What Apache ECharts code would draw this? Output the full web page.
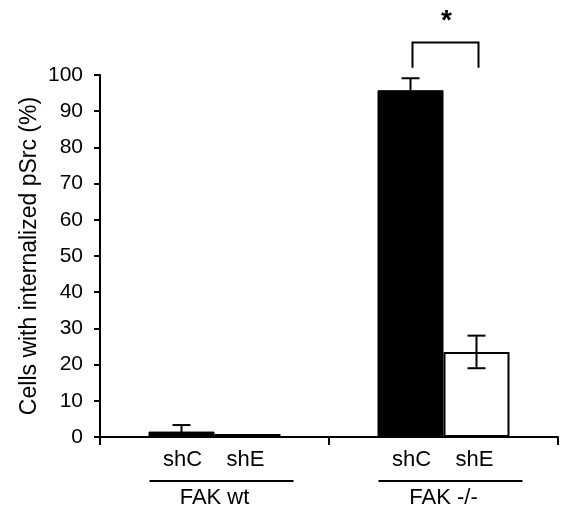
<!DOCTYPE html>
<html><head><meta charset="utf-8">
<script src="https://cdn.jsdelivr.net/npm/echarts@6/dist/echarts.min.js"></script>
<style>html,body{margin:0;padding:0;background:#fff}#c{width:567px;height:518px}</style>
</head><body><div id="c"></div>
<script>
const groups = ['FAK wt', 'FAK -/-'];
const subLabels = ['shC', 'shE'];
const shC = [1.5, 95.8];
const shE = [0.8, 23.5];
const shCErr = [1.8, 3.3];
const shEErr = [0, 4.5];
const yTicks = [0, 10, 20, 30, 40, 50, 60, 70, 80, 90, 100];
const sig = { group: 1, low: 102, high: 109, starAt: 117, text: '*' };

const FONT = 'Liberation Sans, Arial, sans-serif';
const BAR_W = 66;

const chart = echarts.init(document.getElementById('c'), null, { renderer: 'canvas' });

function errItem(params, api, offset) {
  const idx = api.value(0), v = api.value(1), e = api.value(2);
  if (!e) return null;
  const lo = Math.max(0, v - e), hi = v + e;
  const pLo = api.coord([idx, lo]), pHi = api.coord([idx, hi]);
  const x = pLo[0] + offset;
  const style = { stroke: '#000', lineWidth: 2 };
  return { type: 'group', children: [
    { type: 'line', shape: { x1: x, y1: pLo[1], x2: x, y2: pHi[1] }, style },
    { type: 'line', shape: { x1: x - 9, y1: pHi[1], x2: x + 9, y2: pHi[1] }, style },
    { type: 'line', shape: { x1: x - 9, y1: pLo[1], x2: x + 9, y2: pLo[1] }, style }
  ]};
}

chart.setOption({
  animation: false,
  grid: { left: 100, right: 9, top: 75, bottom: 81 },
  xAxis: {
    type: 'category', data: groups, boundaryGap: true,
    axisLine: { lineStyle: { color: '#000', width: 2 } },
    axisTick: { show: true, length: 8, lineStyle: { color: '#000', width: 2 } },
    axisLabel: { margin: 50, color: '#000', fontSize: 22, fontFamily: FONT }
  },
  yAxis: {
    type: 'value', min: 0, max: 100, interval: 10,
    name: 'Cells with internalized pSrc (%)', nameLocation: 'middle', nameGap: 59,
    nameMoveOverlap: false,
    nameTextStyle: { color: '#000', fontSize: 23, fontFamily: FONT },
    splitLine: { show: false },
    axisLine: { show: true, lineStyle: { color: '#000', width: 2 } },
    axisTick: { show: true, length: 6, lineStyle: { color: '#000', width: 2 } },
    axisLabel: { margin: 17, color: '#000', fontSize: 21, fontFamily: FONT,
      formatter: v => yTicks.includes(v) ? String(v) : '' }
  },
  series: [
    { name: 'shC', type: 'bar', data: shC, barWidth: BAR_W, barGap: '0%',
      itemStyle: { color: '#000', borderColor: '#000', borderWidth: 1 } },
    { name: 'shE', type: 'bar', data: shE, barWidth: BAR_W, barGap: '0%',
      itemStyle: { color: '#fff', borderColor: '#000', borderWidth: 2 } },
    { type: 'custom', z: 10, clip: false,
      data: groups.map((g, i) => [i, shC[i], shCErr[i]]),
      renderItem: (p, api) => errItem(p, api, -BAR_W / 2) },
    { type: 'custom', z: 10, clip: false,
      data: groups.map((g, i) => [i, shE[i], shEErr[i]]),
      renderItem: (p, api) => errItem(p, api, BAR_W / 2) },
    { type: 'custom', z: 10, clip: false,
      data: groups.map((g, i) => [i, 0]),
      renderItem: (p, api) => {
        const c = api.coord([api.value(0), 0]);
        const ts = { fill: '#000', fontSize: 22, fontFamily: FONT, textAlign: 'center', textVerticalAlign: 'middle' };
        return { type: 'group', children: [
          { type: 'text', style: Object.assign({ text: subLabels[0], x: c[0] - 32, y: c[1] + 23 }, ts) },
          { type: 'text', style: Object.assign({ text: subLabels[1], x: c[0] + 31, y: c[1] + 23 }, ts) },
          { type: 'line', shape: { x1: c[0] - 65, y1: c[1] + 44, x2: c[0] + 79, y2: c[1] + 44 },
            style: { stroke: '#000', lineWidth: 2 } }
        ]};
      } },
    { type: 'custom', z: 10, clip: false,
      data: [[sig.group, sig.low, sig.high, sig.starAt]],
      renderItem: (p, api) => {
        const idx = api.value(0);
        const a = api.coord([idx, api.value(1)]), b = api.coord([idx, api.value(2)]), s = api.coord([idx, api.value(3)]);
        const xl = a[0] - BAR_W / 2 + 2, xr = a[0] + BAR_W / 2 + 2;
        const style = { stroke: '#000', lineWidth: 2, fill: null };
        return { type: 'group', children: [
          { type: 'polyline', shape: { points: [[xl, a[1]], [xl, b[1]], [xr, b[1]], [xr, a[1]]] }, style },
          { type: 'text', style: { text: sig.text, x: a[0] + 3, y: s[1] + 8, fill: '#000', fontSize: 28, fontWeight: 'bold', fontFamily: FONT, textAlign: 'center', textVerticalAlign: 'middle' } }
        ]};
      } }
  ]
});
</script></body></html>
